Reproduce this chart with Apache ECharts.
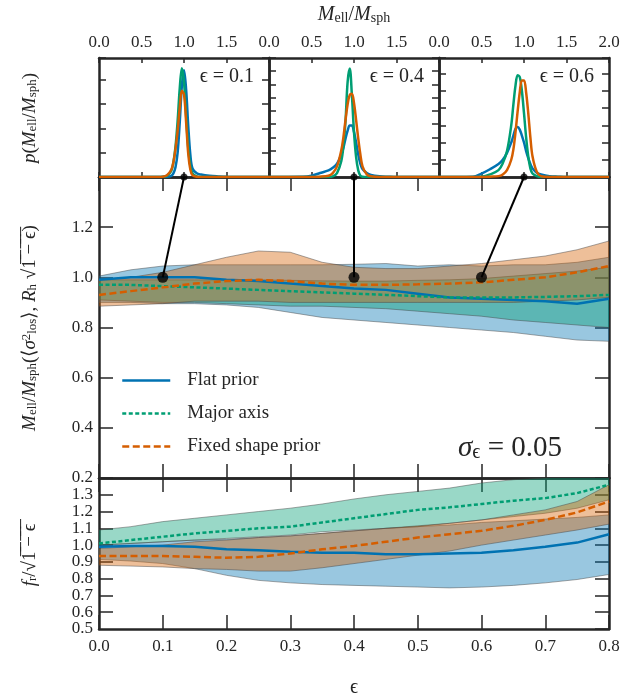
<!DOCTYPE html>
<html>
<head>
<meta charset="utf-8">
<script src="https://cdn.jsdelivr.net/npm/echarts@6/dist/echarts.min.js"></script>
<style>
  html, body { margin: 0; padding: 0; background: #fff; }
  #chart { width: 624px; height: 698px; }
</style>
</head>
<body>
<div id="chart"></div>
<script>
// --- data ---
const eps = [0, 0.05, 0.1, 0.15, 0.2, 0.25, 0.3, 0.35, 0.4, 0.45, 0.5, 0.55, 0.6, 0.65, 0.7, 0.75, 0.8];

// middle panel: M_ell / M_sph
const flatMed  = [0.99, 1.00, 1.00, 1.00, 0.99, 0.985, 0.975, 0.965, 0.955, 0.95, 0.935, 0.92, 0.915, 0.91, 0.905, 0.895, 0.915];
const flatLo   = [0.90, 0.90, 0.895, 0.895, 0.89, 0.88, 0.86, 0.84, 0.83, 0.82, 0.81, 0.80, 0.79, 0.78, 0.765, 0.75, 0.745];
const flatHi   = [1.005, 1.03, 1.045, 1.05, 1.05, 1.05, 1.05, 1.05, 1.052, 1.055, 1.045, 1.05, 1.045, 1.05, 1.05, 1.06, 1.08];
const majorMed = [0.97, 0.97, 0.965, 0.96, 0.955, 0.95, 0.945, 0.94, 0.935, 0.93, 0.925, 0.92, 0.92, 0.92, 0.922, 0.925, 0.93];
const majorLo  = [0.91, 0.905, 0.90, 0.90, 0.895, 0.89, 0.885, 0.885, 0.88, 0.875, 0.865, 0.855, 0.845, 0.83, 0.82, 0.81, 0.80];
const majorHi  = [0.99, 0.99, 0.99, 0.99, 0.99, 0.99, 0.988, 0.986, 0.985, 0.985, 0.988, 0.99, 0.995, 1.005, 1.015, 1.025, 1.04];
const fixedMed = [0.93, 0.945, 0.96, 0.975, 0.985, 0.99, 0.985, 0.975, 0.97, 0.97, 0.972, 0.975, 0.98, 0.99, 1.00, 1.02, 1.045];
const fixedLo  = [0.885, 0.89, 0.895, 0.905, 0.905, 0.905, 0.90, 0.90, 0.90, 0.90, 0.90, 0.90, 0.90, 0.90, 0.905, 0.91, 0.92];
const fixedHi  = [0.99, 1.00, 1.02, 1.05, 1.08, 1.105, 1.10, 1.06, 1.04, 1.035, 1.035, 1.045, 1.055, 1.07, 1.085, 1.11, 1.145];

// lower panel: f_r / sqrt(1 - eps)
const flatMedR  = [0.99, 0.995, 0.995, 0.99, 0.975, 0.97, 0.96, 0.955, 0.955, 0.945, 0.945, 0.95, 0.955, 0.97, 0.99, 1.015, 1.065];
const flatLoR   = [0.915, 0.905, 0.89, 0.86, 0.82, 0.79, 0.775, 0.765, 0.76, 0.755, 0.75, 0.745, 0.75, 0.76, 0.775, 0.795, 0.825];
const flatHiR   = [1.00, 1.01, 1.02, 1.03, 1.035, 1.045, 1.055, 1.07, 1.085, 1.10, 1.11, 1.12, 1.135, 1.145, 1.155, 1.165, 1.18];
const majorMedR = [1.01, 1.03, 1.05, 1.07, 1.085, 1.10, 1.11, 1.135, 1.16, 1.185, 1.21, 1.225, 1.245, 1.265, 1.28, 1.31, 1.36];
const majorLoR  = [1.00, 1.01, 1.02, 1.03, 1.04, 1.05, 1.06, 1.08, 1.09, 1.10, 1.11, 1.13, 1.15, 1.17, 1.19, 1.22, 1.27];
const majorHiR  = [1.09, 1.11, 1.14, 1.16, 1.18, 1.20, 1.22, 1.245, 1.275, 1.30, 1.32, 1.34, 1.37, 1.39, 1.40, 1.42, 1.44];
const fixedMedR = [0.935, 0.935, 0.935, 0.93, 0.925, 0.93, 0.95, 0.975, 0.995, 1.02, 1.045, 1.065, 1.085, 1.115, 1.15, 1.195, 1.26];
const fixedLoR  = [0.88, 0.875, 0.87, 0.86, 0.855, 0.845, 0.845, 0.865, 0.89, 0.915, 0.94, 0.965, 1.00, 1.03, 1.06, 1.09, 1.125];
const fixedHiR  = [0.98, 0.99, 1.00, 1.02, 1.03, 1.045, 1.055, 1.07, 1.085, 1.10, 1.115, 1.13, 1.15, 1.18, 1.21, 1.26, 1.36];

// top panels: p(M_ell / M_sph) at eps = 0.1, 0.4, 0.6
const ratio = [0.0, 0.4, 0.5, 0.6, 0.7, 0.75, 0.8, 0.85, 0.875, 0.9, 0.925, 0.95, 0.975, 1.0, 1.025, 1.05, 1.075, 1.1, 1.15, 1.2, 1.3, 1.4, 1.5, 2.0];
const flatP1  = [0, 0, 0, 0, 0, 0.01, 0.02, 0.1, 0.3, 0.8, 2.0, 4.5, 7.5, 8.8, 7.2, 4.2, 1.8, 0.7, 0.3, 0.2, 0.1, 0.05, 0.02, 0];
const majorP1 = [0, 0, 0, 0, 0, 0.02, 0.1, 0.5, 1.2, 2.5, 4.6, 7.3, 8.95, 7.8, 5.0, 2.4, 0.9, 0.3, 0.05, 0, 0, 0, 0, 0];
const fixedP1 = [0, 0, 0, 0, 0, 0.02, 0.15, 0.6, 1.2, 2.3, 3.8, 5.7, 7.1, 6.8, 4.5, 1.9, 0.6, 0.15, 0.02, 0, 0, 0, 0, 0];
const flatP2  = [0, 0.02, 0.1, 0.3, 0.5, 0.7, 1.0, 1.7, 2.2, 2.9, 3.5, 3.9, 3.9, 3.4, 2.6, 1.7, 1.0, 0.6, 0.3, 0.15, 0.05, 0.02, 0, 0];
const majorP2 = [0, 0, 0, 0, 0, 0.05, 0.3, 1.2, 2.3, 4.2, 7.2, 8.2, 6.2, 3.4, 1.5, 0.5, 0.1, 0.02, 0, 0, 0, 0, 0, 0];
const fixedP2 = [0, 0, 0, 0.02, 0.1, 0.3, 0.8, 2.0, 3.0, 4.3, 5.5, 6.2, 6.3, 5.6, 4.3, 2.9, 1.7, 0.8, 0.2, 0.05, 0, 0, 0, 0];
const flatP3  = [0, 0.02, 0.2, 0.45, 0.75, 1.0, 1.4, 2.0, 2.4, 2.8, 2.9, 2.75, 2.4, 2.0, 1.5, 1.1, 0.75, 0.5, 0.25, 0.15, 0.05, 0.02, 0, 0];
const majorP3 = [0, 0, 0.02, 0.15, 0.4, 0.8, 1.5, 3.0, 4.2, 5.3, 5.9, 5.8, 5.0, 3.7, 2.3, 1.2, 0.5, 0.2, 0.05, 0, 0, 0, 0, 0];
const fixedP3 = [0, 0, 0, 0.02, 0.05, 0.15, 0.4, 1.0, 1.6, 2.6, 3.8, 4.9, 5.6, 5.6, 4.9, 3.7, 2.3, 1.2, 0.3, 0.05, 0, 0, 0, 0];

const panelEps = ['0.1', '0.4', '0.6'];
const linkEps = [0.1, 0.4, 0.6];
const linkMass = 1.0;

const names = ['Flat prior', 'Major axis', 'Fixed shape prior'];
const colors = ['#0072B2', '#009E73', '#D55E00'];
const dashes = ['solid', [4, 2.5], [7, 3.5]];

const ink = '#262626';
const serif = 'Liberation Serif';

const chart = echarts.init(document.getElementById('chart'));

const grids = [
  { left: 99, top: 58, width: 170, height: 119 },
  { left: 269, top: 58, width: 170, height: 119 },
  { left: 439, top: 58, width: 170, height: 119 },
  { left: 99, top: 177, width: 510, height: 301 },
  { left: 99, top: 478, width: 510, height: 151 }
];

function axis(grid, pos, min, max, interval, tickLen, label) {
  return {
    type: 'value', gridIndex: grid, position: pos,
    min: min, max: max, interval: interval,
    axisLine: { show: true, onZero: false, lineStyle: { color: ink, width: 2.5 } },
    axisTick: { show: true, inside: true, length: tickLen, lineStyle: { color: ink, width: 1.5 } },
    axisLabel: label
      ? Object.assign({ color: ink, fontFamily: serif, fontSize: 17, formatter: v => v.toFixed(1) }, label)
      : { show: false },
    splitLine: { show: false }
  };
}

const pMax = [9.8, 9, 6.9];
const pStep = [2, 1, 1];
const xAxes = [], yAxes = [];
for (let i = 0; i < 3; i++) {
  xAxes.push(axis(i, 'bottom', 0, 2, 0.5, 5, null));
  xAxes.push(axis(i, 'top', 0, 2, 0.5, 5, { margin: 7, showMaxLabel: i === 2 }));
  yAxes.push(axis(i, 'left', 0, pMax[i], pStep[i], 7, null));
  yAxes.push(axis(i, 'right', 0, pMax[i], pStep[i], 7, null));
}
xAxes.push(axis(3, 'bottom', 0, 0.8, 0.1, 14, null));
xAxes.push(axis(3, 'top', 0, 0.8, 0.1, 14, null));
yAxes.push(axis(3, 'left', 0.2, 1.4, 0.2, 14, { margin: 6, showMaxLabel: false, showMinLabel: true }));
yAxes.push(axis(3, 'right', 0.2, 1.4, 0.2, 14, null));
xAxes.push(axis(4, 'bottom', 0, 0.8, 0.1, 14, { margin: 9, showMinLabel: true, showMaxLabel: true }));
xAxes.push(axis(4, 'top', 0, 0.8, 0.1, 14, null));
yAxes.push(axis(4, 'left', 0.5, 1.4, 0.1, 14, { margin: 6, showMaxLabel: false, showMinLabel: false }));
yAxes.push(axis(4, 'right', 0.5, 1.4, 0.1, 14, null));
// the lowest label of the lower panel sits tight against its neighbour; give it its own axis
const lowLabel = axis(4, 'left', 0.5, 1.4, 0.9, 0, { margin: 6, showMaxLabel: false, showMinLabel: true });
lowLabel.axisLine.show = false;
lowLabel.axisTick.show = false;
yAxes.push(lowLabel);

// shaded interval drawn as one polygon through the axis scales
function band(g, lo, hi, color) {
  return {
    type: 'custom', xAxisIndex: 2 * g, yAxisIndex: 2 * g, silent: true, z: 2,
    data: [[eps[0], lo[0]]],
    renderItem: (params, api) => {
      const top = eps.map((e, i) => api.coord([e, hi[i]]));
      const bot = eps.map((e, i) => api.coord([e, lo[i]]));
      const cs = params.coordSys;
      const edge = { stroke: 'rgba(70,70,70,0.6)', lineWidth: 0.8, fill: null };
      return {
        type: 'group',
        clipPath: { type: 'rect', shape: { x: cs.x, y: cs.y, width: cs.width, height: cs.height } },
        children: [
          { type: 'polygon', shape: { points: top.concat(bot.slice().reverse()) },
            style: { fill: echarts.color.modifyAlpha(color, 0.4) } },
          { type: 'polyline', shape: { points: top }, style: edge },
          { type: 'polyline', shape: { points: bot }, style: edge }
        ]
      };
    }
  };
}

function curve(g, xs, ys, k, smooth) {
  return {
    type: 'line', name: names[k], xAxisIndex: 2 * g, yAxisIndex: 2 * g,
    symbol: 'none', smooth: smooth, z: 4,
    data: xs.map((x, i) => [x, ys[i]]),
    itemStyle: { color: colors[k] },
    lineStyle: { color: colors[k], width: 2.5, type: dashes[k] }
  };
}

const series = [];
// top panels
const pSets = [[flatP1, majorP1, fixedP1], [flatP2, majorP2, fixedP2], [flatP3, majorP3, fixedP3]];
pSets.forEach((set, g) => {
  set.forEach((ys, k) => {
    const s = curve(g, ratio, ys, k, 0.35);
    s.lineStyle.type = 'solid';
    series.push(s);
  });
});
// middle panel
series.push(band(3, flatLo, flatHi, colors[0]));
series.push(band(3, majorLo, majorHi, colors[1]));
series.push(band(3, fixedLo, fixedHi, colors[2]));
series.push(curve(3, eps, flatMed, 0, false));
series.push(curve(3, eps, majorMed, 1, false));
series.push(curve(3, eps, fixedMed, 2, false));
// lower panel
series.push(band(4, flatLoR, flatHiR, colors[0]));
series.push(band(4, majorLoR, majorHiR, colors[1]));
series.push(band(4, fixedLoR, fixedHiR, colors[2]));
series.push(curve(4, eps, flatMedR, 0, false));
series.push(curve(4, eps, majorMedR, 1, false));
series.push(curve(4, eps, fixedMedR, 2, false));
// link markers
series.push({
  type: 'scatter', xAxisIndex: 6, yAxisIndex: 6, symbolSize: 11, z: 60, clip: false, silent: true,
  itemStyle: { color: '#000' }, data: linkEps.map(e => [e, linkMass])
});
for (let g = 0; g < 3; g++) {
  series.push({
    type: 'scatter', xAxisIndex: 2 * g, yAxisIndex: 2 * g, symbolSize: 7, z: 60, clip: false, silent: true,
    itemStyle: { color: '#000' }, data: [[linkMass, 0]]
  });
}

chart.setOption({
  animation: false,
  backgroundColor: '#fff',
  grid: grids,
  xAxis: xAxes,
  yAxis: yAxes,
  legend: {
    data: names.map((n, k) => ({
      name: n,
      itemStyle: { opacity: 0 },
      lineStyle: { color: colors[k], width: 2.5, type: dashes[k] }
    })),
    orient: 'vertical', left: 116, top: 366,
    itemWidth: 48, itemHeight: 12, itemGap: 14, selectedMode: false,
    textStyle: { fontFamily: serif, fontSize: 19, color: ink, padding: [0, 0, 0, 12] }
  },
  series: series
});

// math-like labels
const rich = (size) => ({
  i: { fontFamily: serif, fontStyle: 'italic', fontSize: size, fill: ink },
  r: { fontFamily: serif, fontSize: size, fill: ink },
  s: { fontFamily: serif, fontSize: Math.round(size * 0.68), fill: ink, verticalAlign: 'bottom', lineHeight: 6 },
  p: { fontFamily: serif, fontSize: Math.round(size * 0.68), fill: ink, verticalAlign: 'top', lineHeight: 6 }
});
function label(x, y, text, size, align, rot) {
  return {
    type: 'text', x: x, y: y, rotation: rot || 0, z: 100,
    style: { text: text, rich: rich(size), align: align || 'center', verticalAlign: 'middle', fill: ink, fontFamily: serif, fontSize: size }
  };
}

const elements = [];
linkEps.forEach((e, g) => {
  const a = chart.convertToPixel({ xAxisIndex: 6, yAxisIndex: 6 }, [e, linkMass]);
  const b = chart.convertToPixel({ xAxisIndex: 2 * g, yAxisIndex: 2 * g }, [linkMass, 0]);
  elements.push({ type: 'line', z: 50, shape: { x1: a[0], y1: a[1], x2: b[0], y2: b[1] }, style: { stroke: '#000', lineWidth: 2 } });
});
elements.push(label(354, 15, '{i|M}{s|ell}{r|/}{i|M}{s|sph}', 20));
panelEps.forEach((t, g) => {
  elements.push(label(grids[g].left + grids[g].width - 15, 77, '{r|ϵ = ' + t + '}', 20, 'right'));
});
elements.push(label(30, 118, '{i|p}{r|(}{i|M}{s|ell}{r|/}{i|M}{s|sph}{r|)}', 19, 'center', Math.PI / 2));
elements.push(label(30, 328, '{i|M}{s|ell}{r|/}{i|M}{s|sph}{r|(⟨}{i|σ}{p|2}{s|los}{r|⟩, }{i|R}{s|h}{r| √1̅ ̅−̅ ̅ϵ̅)}', 19, 'center', Math.PI / 2));
elements.push(label(30, 555, '{i|f}{s|r}{r|/√1̅ ̅−̅ ̅ϵ̅}', 19, 'center', Math.PI / 2));
elements.push(label(354, 688, '{r|ϵ}', 20));
elements.push(label(458, 448, '{i|σ}{s|ϵ}{r| = 0.05}', 29, 'left'));

chart.setOption({ graphic: { elements: elements } });
window.addEventListener('resize', () => chart.resize());
</script>
</body>
</html>
